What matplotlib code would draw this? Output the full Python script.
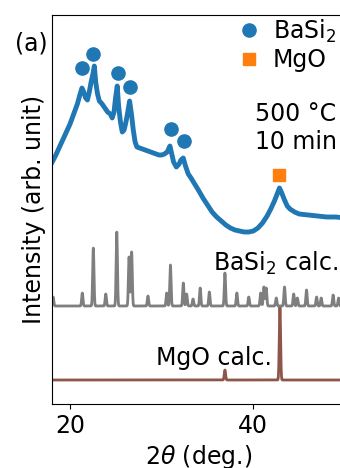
import matplotlib
matplotlib.use("Agg")
import matplotlib.pyplot as plt
import numpy as np

# measured pattern (500 C, 10 min), offset intensity in arb. units
two_theta_exp = [18.0, 18.4, 18.8, 19.2, 19.6, 20.0, 20.4, 20.8, 21.1, 21.3,
                 21.5, 21.7, 21.9, 22.1, 22.3, 22.5, 22.65, 22.8, 23.0, 23.2,
                 23.5, 23.8, 24.1, 24.4, 24.6, 24.8, 24.95, 25.15, 25.3, 25.5,
                 25.7, 25.9, 26.1, 26.3, 26.5, 26.7, 26.9, 27.1, 27.3, 27.6,
                 27.9, 28.2, 28.5, 28.8, 29.1, 29.4, 29.7, 30.0, 30.3, 30.6,
                 30.9, 31.1, 31.3, 31.6, 31.9, 32.1, 32.35, 32.6, 32.9, 33.2,
                 33.6, 34.0, 34.5, 35.0, 35.5, 36.0, 36.5, 37.0, 37.5, 38.0,
                 38.5, 39.0, 39.5, 40.0, 40.5, 41.0, 41.5, 41.9, 42.3, 42.6,
                 42.85, 43.1, 43.4, 43.7, 44.0, 44.5, 45.0, 46.0, 47.0, 48.0,
                 49.0, 50.0]
intensity_exp = [241, 248, 256, 264, 272, 280, 290, 300, 310, 316,
                 312, 306, 304, 312, 322, 330, 338, 322, 310, 303,
                 300, 296, 292, 290, 286, 292, 305, 318, 298, 282,
                 272, 274, 282, 292, 303, 290, 274, 262, 257, 256,
                 255, 254, 253, 252, 251, 250, 249, 249, 250, 252,
                 258, 250, 242, 237, 240, 244, 246, 238, 230, 226,
                 220, 214, 206, 199, 192, 187, 183, 179, 176, 174,
                 173, 172, 172, 173, 176, 181, 188, 195, 203, 210,
                 216, 211, 204, 198, 195, 192, 190, 189, 188, 187,
                 187, 186]

# reflections marked on the measured pattern
basi2_mark_x = [21.28, 22.54, 25.2, 26.54, 30.98, 32.46]
basi2_mark_y = [336, 350, 331, 317, 275, 263]
mgo_mark_x = [42.83]
mgo_mark_y = [229]

# calculated patterns: peak positions and peak tops
basi2_base = 98
basi2_pos = [18.15, 21.34, 22.54, 23.9, 25.1, 26.44, 26.72, 28.5, 30.55, 30.95,
             32.36, 32.72, 33.42, 34.2, 35.2, 36.9, 38.2, 39.5, 40.8, 41.15,
             41.4, 42.5, 43.4, 44.4, 44.8, 45.8, 46.9, 47.4, 48.7, 49.3]
basi2_top = [107, 111, 156, 110, 172, 147, 152, 108, 111, 139,
             121, 110, 105, 116, 112, 131, 111, 107, 111, 117,
             116, 106, 117, 110, 106, 114, 107, 106, 109, 106]
mgo_base = 24
mgo_pos = [36.9, 42.9]
mgo_top = [34, 98]

grid = np.linspace(18, 50, 4001)


def profile(base, pos, top, w=0.07):
    y = np.full_like(grid, float(base))
    for p, t in zip(pos, top):
        y += (t - base) * np.exp(-0.5 * ((grid - p) / w) ** 2)
    return y


fs = 17
fig = plt.figure(figsize=(3.4, 4.68), dpi=100)
ax = fig.add_axes([51.7 / 340, 64 / 468, (345 - 51.7) / 340, 389 / 468])

ax.plot(grid, profile(mgo_base, mgo_pos, mgo_top), color="#8c564b", lw=2)
ax.plot(grid, profile(basi2_base, basi2_pos, basi2_top), color="#7f7f7f", lw=2)
ax.plot(two_theta_exp, intensity_exp, color="#1f77b4", lw=3.5)

ax.plot(basi2_mark_x, basi2_mark_y, "o", color="#1f77b4", ms=9.5, ls="none",
        label="BaSi$_2$")
ax.plot(mgo_mark_x, mgo_mark_y, "s", color="#ff7f0e", ms=8.5, ls="none",
        label="MgO")

ax.legend(loc="upper left", bbox_to_anchor=(0.6256, 1.0), frameon=False,
          fontsize=fs, handlelength=1.0, handletextpad=0.5, labelspacing=0.15,
          borderpad=0.1, borderaxespad=0.0)

ax.text(40.17, 276, "500 °C\n10 min", fontsize=fs, ha="left", va="center")
ax.text(49.2, 133, "BaSi$_2$ calc.", fontsize=fs, ha="right", va="baseline")
ax.text(42.03, 38.5, "MgO calc.", fontsize=fs, ha="right", va="baseline")

ax.set_xlim(18, 50)
ax.set_ylim(0, 389)
ax.set_xticks([20, 40])
ax.set_yticks([])
ax.tick_params(labelsize=fs)
ax.set_xlabel(r"2$\theta$ (deg.)", fontsize=fs)
ax.set_ylabel("Intensity (arb. unit)", fontsize=fs)

fig.text(31 / 340, 1 - 44 / 468, "(a)", fontsize=fs, ha="center", va="center")

fig.savefig("out.png", dpi=100)
